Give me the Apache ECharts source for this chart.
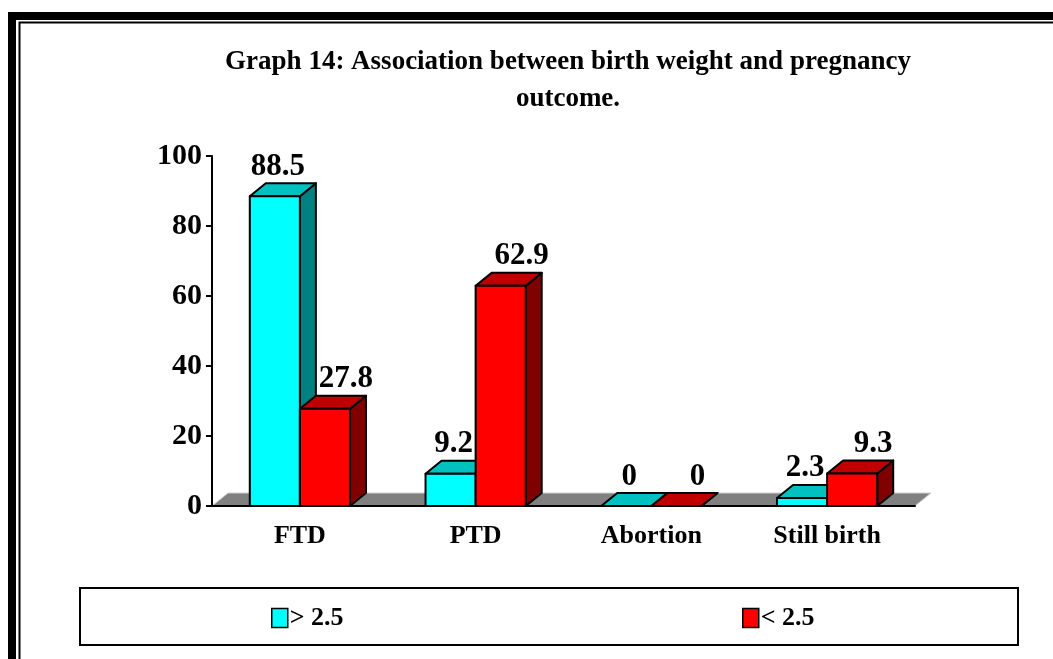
<!DOCTYPE html>
<html>
<head>
<meta charset="utf-8">
<script src="https://cdn.jsdelivr.net/npm/echarts@6/dist/echarts.min.js"></script>
<style>
  html, body { margin: 0; padding: 0; background: #fff; }
  #main { width: 1053px; height: 659px; }
</style>
</head>
<body>
<div id="main"></div>
<script>
const categories = ["FTD", "PTD", "Abortion", "Still birth"];
const seriesNames = ["> 2.5", "< 2.5"];
const aboveValues = [88.5, 9.2, 0, 2.3];
const belowValues = [27.8, 62.9, 0, 9.3];
const yTicks = { min: 0, max: 100, interval: 20 };

const SERIF = "'Liberation Serif', 'Times New Roman', serif";
const DX = 16, DY = 13;     // 3d depth offset
const BAR_RATIO = 0.285;    // each bar's share of a category slot

const chartDom = document.getElementById("main");
const myChart = echarts.init(chartDom);

// one 3d bar; side = -1 for the left bar of the pair, +1 for the right
// labelShift nudges the value label sideways like the original does
const makeBar = (side, front, top, dark, labelShift) => (params, api) => {
  const cat = api.value(0);
  const val = api.value(1);
  const base = api.coord([cat, 0]);
  const peak = api.coord([cat, val]);
  const bw = api.size([1, 0])[0] * BAR_RATIO;
  const x0 = side < 0 ? base[0] - bw : base[0];
  const x1 = x0 + bw;
  const by = base[1];
  const ty = peak[1];
  const edge = { stroke: "#000", lineWidth: 2, lineJoin: "round" };
  return {
    type: "group",
    children: [
      {
        type: "polygon",
        shape: { points: [[x1, ty], [x1 + DX, ty - DY], [x1 + DX, by - DY], [x1, by]] },
        style: Object.assign({ fill: dark }, edge),
      },
      {
        type: "polygon",
        shape: { points: [[x0, ty], [x0 + DX, ty - DY], [x1 + DX, ty - DY], [x1, ty]] },
        style: Object.assign({ fill: top }, edge),
      },
      {
        type: "rect",
        shape: { x: x0, y: ty, width: bw, height: by - ty },
        style: Object.assign({ fill: front }, edge),
      },
      {
        type: "text",
        x: x0 + bw / 2 + labelShift,
        y: ty - DY - 1,
        style: {
          text: String(val),
          fill: "#000",
          font: "bold 31px " + SERIF,
          align: "center",
          verticalAlign: "bottom",
        },
      },
    ],
  };
};

const renderFloor = (params, api) => {
  const cs = params.coordSys;
  const y = cs.y + cs.height;
  return {
    type: "polygon",
    shape: { points: [[cs.x, y], [cs.x + DX, y - DY], [cs.x + cs.width + DX, y - DY], [cs.x + cs.width, y]] },
    style: { fill: "#808080", stroke: "#d0d0d0", lineWidth: 1 },
  };
};

const legendText = { fontFamily: SERIF, fontWeight: "bold", fontSize: 26, color: "#000", padding: [0, 0, 0, -3] };

const option = {
  animation: false,
  backgroundColor: "#fff",
  title: {
    text: "Graph 14: Association between birth weight and pregnancy\noutcome.",
    left: 563,
    top: 39,
    textAlign: "center",
    textStyle: { fontFamily: SERIF, fontWeight: "bold", fontSize: 27, lineHeight: 37, color: "#000" },
  },
  legend: [
    {
      data: [seriesNames[0]],
      left: 271,
      top: 605,
      padding: 0,
      icon: "rect",
      itemWidth: 16,
      itemHeight: 19,
      itemStyle: { borderColor: "#000", borderWidth: 1.5 },
      textStyle: legendText,
      selectedMode: false,
    },
    {
      data: [seriesNames[1]],
      left: 742,
      top: 605,
      padding: 0,
      icon: "rect",
      itemWidth: 16,
      itemHeight: 19,
      itemStyle: { borderColor: "#000", borderWidth: 1.5 },
      textStyle: legendText,
      selectedMode: false,
    },
  ],
  grid: { left: 212, right: 138, top: 156, bottom: 153, containLabel: false },
  xAxis: {
    type: "category",
    data: categories,
    z: 3,
    axisLine: { lineStyle: { color: "#000", width: 2 } },
    axisTick: { length: 6, lineStyle: { color: "#000", width: 2 } },
    axisLabel: { margin: 17, fontFamily: SERIF, fontWeight: "bold", fontSize: 26, color: "#000" },
  },
  yAxis: {
    type: "value",
    min: yTicks.min,
    max: yTicks.max,
    interval: yTicks.interval,
    z: 3,
    axisLine: { show: true, lineStyle: { color: "#000", width: 2 } },
    axisTick: { show: true, length: 6, lineStyle: { color: "#000", width: 2 } },
    splitLine: { show: false },
    axisLabel: { margin: 10, fontFamily: SERIF, fontWeight: "bold", fontSize: 30, color: "#000" },
  },
  series: [
    {
      type: "custom",
      name: "floor",
      z: 0,
      silent: true,
      renderItem: renderFloor,
      data: [[0, 0]],
    },
    {
      type: "custom",
      name: seriesNames[0],
      z: 2,
      itemStyle: { color: "#00FFFF" },
      renderItem: makeBar(-1, "#00FFFF", "#00C0C0", "#008080", 3),
      encode: { x: 0, y: 1 },
      data: aboveValues.map((v, i) => [i, v]),
    },
    {
      type: "custom",
      name: seriesNames[1],
      z: 2,
      itemStyle: { color: "#FF0000" },
      renderItem: makeBar(1, "#FF0000", "#C00000", "#800000", 21),
      encode: { x: 0, y: 1 },
      data: belowValues.map((v, i) => [i, v]),
    },
  ],
  graphic: [
    // double frame around the figure, running off the right and bottom edges
    { type: "rect", z: 100, shape: { x: 12, y: 16, width: 1200, height: 800 }, style: { fill: null, stroke: "#000", lineWidth: 8 } },
    { type: "rect", z: 100, shape: { x: 19.5, y: 22.5, width: 1200, height: 800 }, style: { fill: null, stroke: "#000", lineWidth: 2 } },
    // legend box
    { type: "rect", z: -1, shape: { x: 80, y: 588, width: 938, height: 57 }, style: { fill: "#fff", stroke: "#000", lineWidth: 2 } },
  ],
};

option && myChart.setOption(option);
</script>
</body>
</html>
